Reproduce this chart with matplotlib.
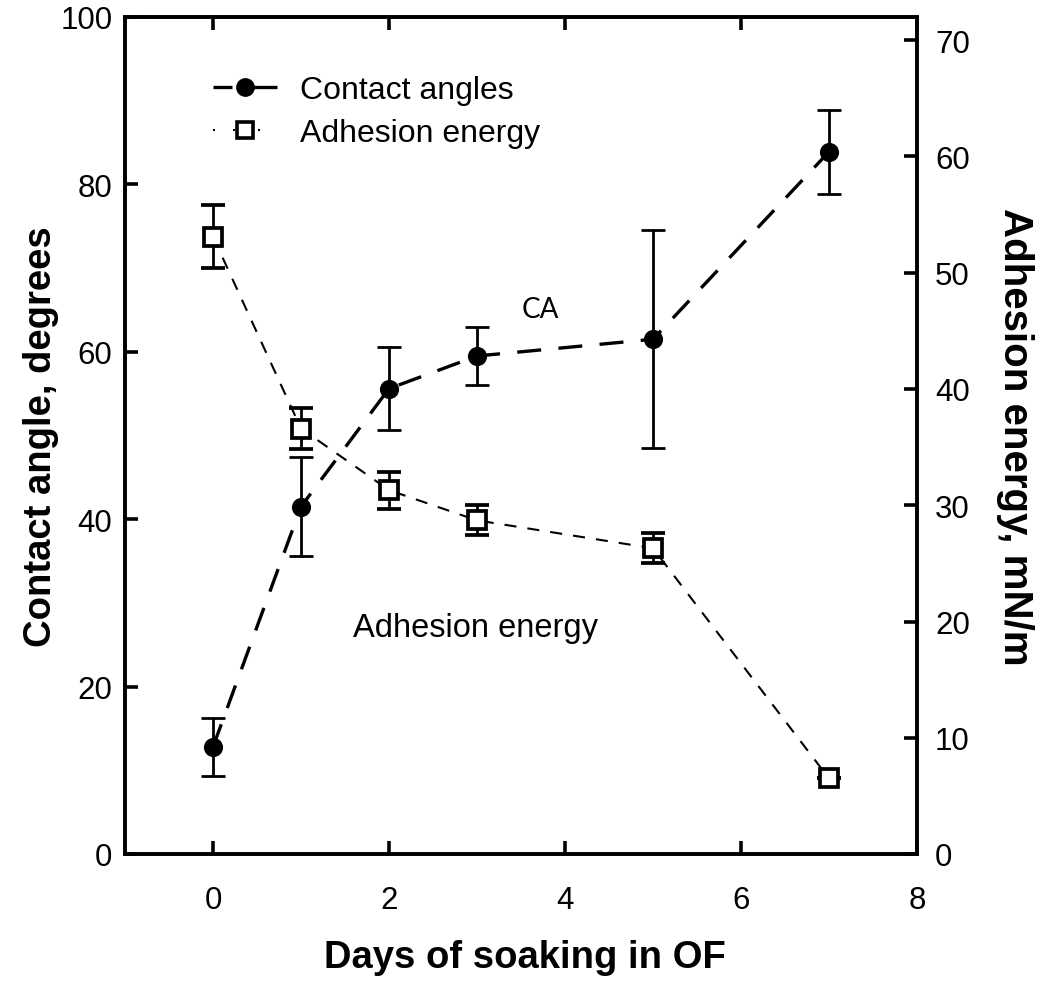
import matplotlib
matplotlib.use("Agg")
import matplotlib.pyplot as plt
from matplotlib.lines import Line2D

plt.rcParams['font.family'] = ['Liberation Sans', 'DejaVu Sans']

# ---- data ----
days = [0, 1, 2, 3, 5, 7]
contact_angle = [12.8, 41.5, 55.6, 59.5, 61.5, 83.9]
contact_angle_err = [3.5, 5.9, 5.0, 3.5, 13.0, 5.0]
adhesion = [53.1, 36.6, 31.3, 28.7, 26.3, 6.5]
adhesion_err = [2.7, 1.8, 1.6, 1.3, 1.3, 0.0]

x_ticks = [0, 2, 4, 6, 8]
left_ticks = [0, 20, 40, 60, 80, 100]
right_ticks = [0, 10, 20, 30, 40, 50, 60, 70]

W, H = 1050, 995
fig = plt.figure(figsize=(W / 100, H / 100), dpi=100)
L, R, T, B = 125, 917, 18, 855
ax = fig.add_axes([L / W, 1 - B / H, (R - L) / W, (B - T) / H])
ax2 = ax.twinx()

# contact angle
ca_lw = 2.4
ax.errorbar(days, contact_angle, yerr=contact_angle_err, color='black',
            linestyle=(0, (7.2, 5.2)), linewidth=ca_lw, marker='o',
            markersize=12.8, markerfacecolor='black', markeredgecolor='black',
            ecolor='black', elinewidth=2.0, capsize=8.5, capthick=2.0,
            zorder=3)

# adhesion energy
ae_lw = 1.5
ax2.errorbar(days, adhesion, yerr=adhesion_err, color='black',
             linestyle=(0, (5.8, 5.3)), linewidth=ae_lw, marker='s',
             markersize=12.5, markerfacecolor='white', markeredgecolor='black',
             markeredgewidth=2.7, ecolor='black', elinewidth=2.0,
             capsize=8.5, capthick=2.0, zorder=3)

ax.set_xlim(-1, 8)
ax.set_ylim(0, 100)
ax2.set_ylim(0, 72)
ax.set_xticks(x_ticks)
ax.set_yticks(left_ticks)
ax2.set_yticks(right_ticks)

for a in (ax, ax2):
    for s in a.spines.values():
        s.set_linewidth(2.6)

ax.tick_params(axis='x', direction='in', top=True, bottom=True, length=9.5,
               width=2.6, labelsize=22.5, pad=22)
ax.tick_params(axis='y', direction='in', left=True, right=False, length=9.5,
               width=2.6, labelsize=22.5, pad=9)
ax2.tick_params(axis='y', direction='in', right=True, length=9.5,
                width=2.6, labelsize=22.5, pad=13)

# labels
fig.text(525 / W, 1 - 968 / H, 'Days of soaking in OF', ha='center',
         va='baseline', fontsize=27.5, fontweight='bold')
fig.text(41 / W, 1 - 437 / H, 'Contact angle, degrees', ha='center',
         va='center', rotation=90, fontsize=27.5, fontweight='bold')
fig.text(1015 / W, 1 - 437 / H, 'Adhesion energy, mN/m', ha='center',
         va='center', rotation=270, fontsize=29, fontweight='bold')

# annotations
ax.text(2.985, 26.0, 'Adhesion energy', ha='center', va='baseline',
        fontsize=23.5)
ax.text(3.72, 64.2, 'CA', ha='center', va='baseline', fontsize=20,
        family=['Lato', 'DejaVu Sans'])

# legend (proxy handles)
h_ca = Line2D([], [], color='black', linestyle=(0, (5.7, 6.0, 7.8, 5.0)),
              linewidth=ca_lw, marker='o', markersize=12.5,
              markerfacecolor='black')
h_ae = Line2D([], [], color='black',
              linestyle=(0, (0.96, 8.65, 0.96, 11.05, 0.96, 8.65, 0.96, 20)),
              linewidth=ae_lw, marker='s', markersize=12,
              markerfacecolor='white', markeredgewidth=2.6)
leg = ax2.legend([h_ca, h_ae], ['Contact angles', 'Adhesion energy'],
                 loc='center left', bbox_to_anchor=(0.111, 0.887),
                 frameon=False, fontsize=23, handlelength=2.0,
                 handletextpad=0.72, labelspacing=0.42, borderpad=0,
                 borderaxespad=0)

fig.savefig('out.png', dpi=100)
